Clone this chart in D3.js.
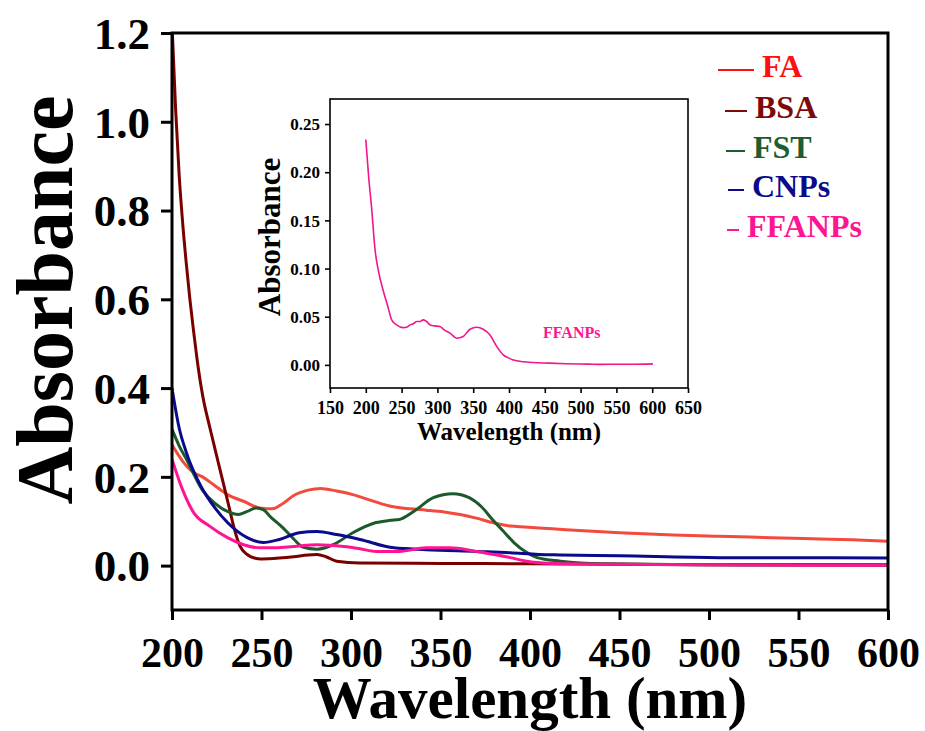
<!DOCTYPE html>
<html>
<head>
<meta charset="utf-8">
<script src="https://cdn.jsdelivr.net/npm/d3@7"></script>
<style>
  html, body { margin: 0; padding: 0; background: #ffffff; }
  svg { display: block; }
  text { font-family: "Liberation Serif", "Times New Roman", serif; font-weight: bold; }
</style>
</head>
<body>
<svg id="chart" width="925" height="731"></svg>
<script>
// ---------------- DATA ----------------
const seriesNames = ["FA", "BSA", "FST", "CNPs", "FFANPs"];

const faWavelength = [200, 206, 212, 217, 224, 231, 240, 249, 256, 262, 268, 276, 283, 292, 301, 312, 323, 333, 342, 352, 361, 370, 379, 389, 397, 405, 420, 450, 480, 506, 535, 562, 580, 600];
const faAbs        = [0.272, 0.235, 0.21, 0.20, 0.18, 0.16, 0.145, 0.13, 0.128, 0.14, 0.158, 0.17, 0.174, 0.168, 0.16, 0.146, 0.133, 0.128, 0.125, 0.121, 0.115, 0.107, 0.097, 0.089, 0.087, 0.085, 0.081, 0.074, 0.069, 0.066, 0.063, 0.06, 0.058, 0.055];

const bsaWavelength = [200, 202, 204, 206, 208, 210, 212, 214, 216, 218, 220, 223, 226, 229, 232, 235, 238, 242, 246, 250, 260, 268, 276, 281, 286, 292, 305, 350, 400, 450, 500, 600];
const bsaAbs        = [1.22, 1.03, 0.88, 0.77, 0.68, 0.60, 0.53, 0.465, 0.41, 0.365, 0.33, 0.28, 0.23, 0.18, 0.13, 0.08, 0.044, 0.025, 0.017, 0.015, 0.017, 0.02, 0.024, 0.025, 0.02, 0.01, 0.006, 0.005, 0.004, 0.003, 0.002, 0.002];

const fstWavelength = [200, 204, 208, 217, 224, 231, 237, 242, 247, 251, 255, 262, 268, 273, 281, 290, 301, 314, 322, 327, 335, 346, 357, 366, 373, 379, 385, 391, 398, 404, 417, 440, 500, 600];
const fstAbs        = [0.307, 0.27, 0.24, 0.17, 0.14, 0.122, 0.115, 0.122, 0.13, 0.126, 0.11, 0.085, 0.06, 0.042, 0.037, 0.047, 0.074, 0.097, 0.102, 0.104, 0.122, 0.153, 0.162, 0.153, 0.132, 0.104, 0.078, 0.052, 0.03, 0.018, 0.01, 0.004, 0.002, 0.001];

const cnpsWavelength = [200, 204, 208, 216, 224, 231, 242, 251, 260, 271, 281, 292, 305, 324, 342, 370, 389, 405, 417, 450, 506, 560, 600];
const cnpsAbs        = [0.40, 0.31, 0.255, 0.18, 0.13, 0.097, 0.063, 0.052, 0.059, 0.074, 0.077, 0.07, 0.059, 0.04, 0.036, 0.032, 0.029, 0.025, 0.024, 0.022, 0.018, 0.018, 0.017];

const ffanpsWavelength = [200, 206, 212, 221, 231, 240, 249, 258, 268, 281, 296, 305, 314, 327, 342, 355, 370, 380, 389, 398, 407, 420, 450, 500, 550, 600];
const ffanpsAbs        = [0.24, 0.17, 0.12, 0.089, 0.063, 0.047, 0.04, 0.04, 0.043, 0.047, 0.043, 0.038, 0.032, 0.032, 0.04, 0.04, 0.032, 0.025, 0.018, 0.01, 0.006, 0.004, 0.003, 0.002, 0.001, 0.001];

// inset: FFANPs alone
const insetWavelength = [200, 204, 208, 213, 217.5, 224, 231, 236, 243, 252, 257, 262, 267, 271, 276, 280, 284, 290, 296, 303.6, 310, 317.6, 327, 336, 345.5, 355, 364, 373.5, 383, 392, 400, 406, 420, 433.5, 455, 480, 510, 530, 550, 575, 601];
const insetAbs        = [0.234, 0.195, 0.164, 0.119, 0.098, 0.078, 0.060, 0.047, 0.0415, 0.0387, 0.039, 0.0415, 0.043, 0.045, 0.045, 0.0467, 0.0455, 0.0415, 0.0405, 0.0398, 0.036, 0.033, 0.0276, 0.0294, 0.037, 0.039, 0.037, 0.031, 0.019, 0.0104, 0.007, 0.005, 0.0032, 0.0024, 0.0018, 0.0012, 0.0008, 0.0005, 0.0007, 0.0006, 0.001];

const mainXTicks = [200, 250, 300, 350, 400, 450, 500, 550, 600];
const mainYTicks = [0.0, 0.2, 0.4, 0.6, 0.8, 1.0, 1.2];
const insetXTicks = [150, 200, 250, 300, 350, 400, 450, 500, 550, 600, 650];
const insetYTicks = [0.00, 0.05, 0.10, 0.15, 0.20, 0.25];

// ---------------- STYLE ----------------
const curveColors  = { FA: "#f24a3c", BSA: "#7a0000", FST: "#1b5a2c", CNPs: "#0a0a8c", FFANPs: "#ff1493" };
const legendColors = { FA: "#ff1010", BSA: "#7d0a0a", FST: "#1b5e30", CNPs: "#0a0a8a", FFANPs: "#ff1493" };
const legendDashLen = [36, 22, 19, 16, 12];

const svg = d3.select("#chart");

// ---------------- MAIN PLOT ----------------
const M = { left: 172, right: 888, top: 33, bottom: 610 };
const x = d3.scaleLinear().domain([200, 600]).range([M.left, M.right]);
const y = d3.scaleLinear().domain([-0.1, 1.2]).range([M.bottom, M.top]);

svg.append("defs").append("clipPath").attr("id", "mainClip")
  .append("rect").attr("x", M.left).attr("y", M.top)
  .attr("width", M.right - M.left).attr("height", M.bottom - M.top);

const series = [
  { name: "FA", w: faWavelength, a: faAbs },
  { name: "BSA", w: bsaWavelength, a: bsaAbs },
  { name: "FST", w: fstWavelength, a: fstAbs },
  { name: "CNPs", w: cnpsWavelength, a: cnpsAbs },
  { name: "FFANPs", w: ffanpsWavelength, a: ffanpsAbs }
];

const line = d3.line().x(d => x(d[0])).y(d => y(d[1])).curve(d3.curveMonotoneX);

const curves = svg.append("g").attr("clip-path", "url(#mainClip)");
series.forEach(s => {
  curves.append("path")
    .datum(s.w.map((w, i) => [w, s.a[i]]))
    .attr("d", line)
    .attr("fill", "none")
    .attr("stroke", curveColors[s.name])
    .attr("stroke-width", 3)
    .attr("stroke-linejoin", "round");
});

// axes
const xAxis = d3.axisBottom(x).tickValues(mainXTicks).tickSize(10).tickSizeOuter(0).tickFormat(d3.format("d"));
const yAxis = d3.axisLeft(y).tickValues(mainYTicks).tickSize(11).tickSizeOuter(0).tickFormat(d3.format(".1f"));

const gx = svg.append("g").attr("transform", `translate(0,${M.bottom})`).call(xAxis);
gx.select(".domain").remove();
gx.selectAll(".tick line").attr("stroke", "#000").attr("stroke-width", 3);
gx.selectAll(".tick text").attr("font-size", 42).attr("fill", "#000").attr("dy", null).attr("y", 57);

const gy = svg.append("g").attr("transform", `translate(${M.left},0)`).call(yAxis);
gy.select(".domain").remove();
gy.selectAll(".tick line").attr("stroke", "#000").attr("stroke-width", 3);
gy.selectAll(".tick text").attr("font-size", 45).attr("fill", "#000").attr("x", -22).attr("dy", "0.34em");

// frame
svg.append("rect").attr("x", M.left).attr("y", M.top)
  .attr("width", M.right - M.left).attr("height", M.bottom - M.top)
  .attr("fill", "none").attr("stroke", "#000").attr("stroke-width", 3);

// axis titles
svg.append("text").attr("x", (M.left + M.right) / 2).attr("y", 718)
  .attr("text-anchor", "middle").attr("font-size", 59).attr("fill", "#000")
  .text("Wavelength (nm)");
svg.append("text").attr("transform", "translate(72,300) rotate(-90)")
  .attr("text-anchor", "middle").attr("font-size", 80).attr("fill", "#000")
  .text("Absorbance");

// legend
const legendBaselines = [77, 118, 158, 197, 237];
const legendTextX = [762, 755, 753, 752, 747];
seriesNames.forEach((n, i) => {
  const tx = legendTextX[i];
  const lineEnd = tx - 8;
  svg.append("line")
    .attr("x1", lineEnd - legendDashLen[i]).attr("x2", lineEnd)
    .attr("y1", legendBaselines[i] - 7).attr("y2", legendBaselines[i] - 7)
    .attr("stroke", legendColors[n]).attr("stroke-width", 2);
  svg.append("text").attr("x", tx).attr("y", legendBaselines[i])
    .attr("font-size", 32).attr("fill", legendColors[n]).text(n);
});

// ---------------- INSET ----------------
const I = { left: 330, right: 688, top: 99, bottom: 388 };
const xi = d3.scaleLinear().domain([150, 650]).range([I.left, I.right]);
const yi = d3.scaleLinear().domain([-0.024, 0.276]).range([I.bottom, I.top]);

svg.append("rect").attr("x", I.left).attr("y", I.top)
  .attr("width", I.right - I.left).attr("height", I.bottom - I.top)
  .attr("fill", "#fff").attr("stroke", "#000").attr("stroke-width", 1.6);

const lineI = d3.line().x(d => xi(d[0])).y(d => yi(d[1])).curve(d3.curveMonotoneX);
svg.append("path")
  .datum(insetWavelength.map((w, i) => [w, insetAbs[i]]))
  .attr("d", lineI).attr("fill", "none")
  .attr("stroke", "#f0168c").attr("stroke-width", 1.6);

const gxi = svg.append("g").attr("transform", `translate(0,${I.bottom})`)
  .call(d3.axisBottom(xi).tickValues(insetXTicks).tickSize(5).tickSizeOuter(0).tickFormat(d3.format("d")));
gxi.select(".domain").remove();
gxi.selectAll(".tick line").attr("stroke", "#000").attr("stroke-width", 1.6);
gxi.selectAll(".tick text").attr("font-size", 18).attr("fill", "#000").attr("dy", null).attr("y", 26);

const gyi = svg.append("g").attr("transform", `translate(${I.left},0)`)
  .call(d3.axisLeft(yi).tickValues(insetYTicks).tickSize(5).tickSizeOuter(0).tickFormat(d3.format(".2f")));
gyi.select(".domain").remove();
gyi.selectAll(".tick line").attr("stroke", "#000").attr("stroke-width", 1.6);
gyi.selectAll(".tick text").attr("font-size", 17).attr("fill", "#000").attr("x", -10).attr("dy", "0.34em");

svg.append("text").attr("x", (I.left + I.right) / 2).attr("y", 440)
  .attr("text-anchor", "middle").attr("font-size", 25).attr("fill", "#000")
  .text("Wavelength (nm)");
svg.append("text").attr("transform", "translate(280,237) rotate(-90)")
  .attr("text-anchor", "middle").attr("font-size", 31).attr("fill", "#000")
  .text("Absorbance");
svg.append("text").attr("x", 543).attr("y", 338)
  .attr("font-size", 16).attr("fill", "#ff1493").text("FFANPs");
</script>
</body>
</html>
